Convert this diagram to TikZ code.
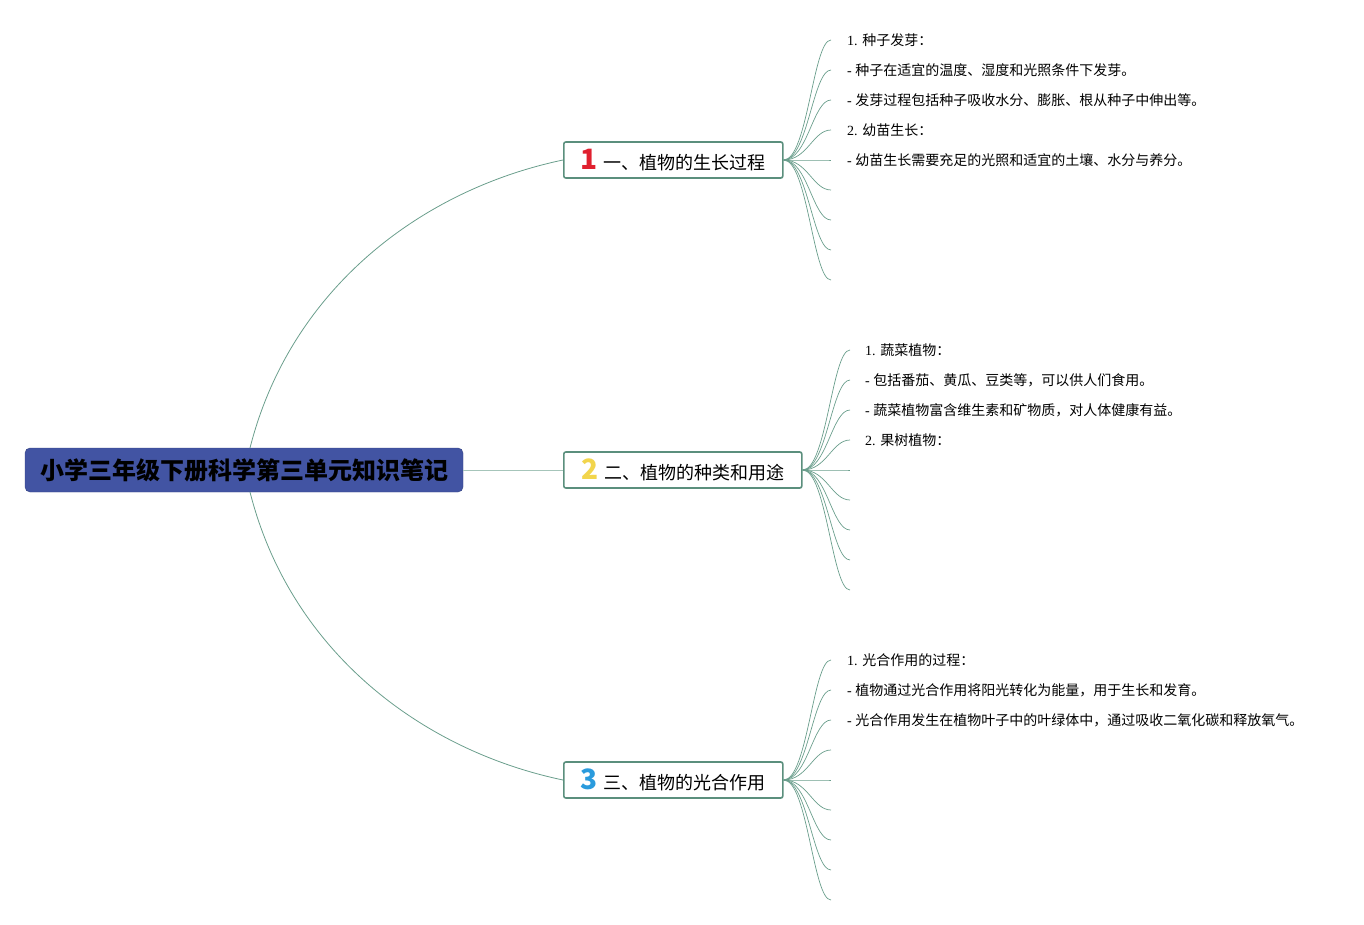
\documentclass[tikz,border=0pt]{standalone}
\usepackage{fontspec}
\setmainfont{Liberation Serif}
\newfontfamily\cjk{Noto Sans CJK SC}
\usetikzlibrary{positioning, calc}
\definecolor{rootblue}{HTML}{4254A3}
\definecolor{topicgreen}{HTML}{5B8F7D}
\definecolor{linkgreen}{HTML}{6A9E8C}
\definecolor{numred}{HTML}{E0202F}
\definecolor{numyellow}{HTML}{F2D54C}
\definecolor{numblue}{HTML}{2A9BDD}
\newcommand{\numicon}[2]{{\fontsize{28}{28}\selectfont\bfseries\color{#1}#2}\hspace{6pt}}

\begin{document}
\begin{tikzpicture}[
  x=1pt, y=-1pt,
  rootbox/.style={rectangle, rounded corners=5pt, fill=rootblue, draw=rootblue!80!black, text=black, minimum width=438pt, minimum height=44pt, font=\cjk\fontsize{24}{26}\selectfont\bfseries},
  topic/.style={rectangle, rounded corners=2pt, draw=topicgreen, line width=1.6pt, fill=white, text=black, minimum height=36pt, inner xsep=0pt, anchor=west, font=\cjk\fontsize{18}{20}\selectfont},
  leaf/.style={anchor=west, inner xsep=16pt, inner ysep=1pt, text=black, font=\fontsize{14}{16}\selectfont},
  link/.style={draw=linkgreen, line width=0.8pt},
  twig/.style={draw=linkgreen, line width=0.7pt}
]
\useasboundingbox (0,0) rectangle (1364,925);

% Zentrales Thema
\node[rootbox] (root) at (244,470) {小学三年级下册科学第三单元知识笔记};

% Hauptzweige
\node[topic, minimum width=219pt] (t1) at (563,160) {\numicon{numred}{1}一、植物的生长过程};
\node[topic, minimum width=238pt] (t2) at (563,470) {\numicon{numyellow}{2}二、植物的种类和用途};
\node[topic, minimum width=219pt] (t3) at (563,780) {\numicon{numblue}{3}三、植物的光合作用};

% Verbindungen zum Zentrum
\coordinate (rtop) at (250,448);
\coordinate (rbot) at (250,492);
\draw[link] (rtop) .. controls (290,290) and (420,190) .. (t1.west);
\draw[link, draw=linkgreen!60] (root.east) -- (t2.west);
\draw[link] (rbot) .. controls (290,650) and (420,750) .. (t3.west);

% Endpunkte der Unterzweige
\foreach \i in {0,...,8} {
  \coordinate (a\i) at (831,40+30*\i);
  \coordinate (b\i) at (850,350+30*\i);
  \coordinate (c\i) at (831,660+30*\i);
}
\foreach \i in {0,...,8} {
  \draw[twig] (t1.east) .. controls ($(t1.east)+(24,0)$) and ($(a\i)+(-18,0)$) .. (a\i);
  \draw[twig] (t2.east) .. controls ($(t2.east)+(24,0)$) and ($(b\i)+(-18,0)$) .. (b\i);
  \draw[twig] (t3.east) .. controls ($(t3.east)+(24,0)$) and ($(c\i)+(-18,0)$) .. (c\i);
}

% Notizen
\node[leaf] (a0t) at (a0) {1. \cjk 种子发芽：};
\node[leaf] (a1t) at (a1) {- \cjk 种子在适宜的温度、湿度和光照条件下发芽。};
\node[leaf] (a2t) at (a2) {- \cjk 发芽过程包括种子吸收水分、膨胀、根从种子中伸出等。};
\node[leaf] (a3t) at (a3) {2. \cjk 幼苗生长：};
\node[leaf] (a4t) at (a4) {- \cjk 幼苗生长需要充足的光照和适宜的土壤、水分与养分。};

\node[leaf, inner xsep=15pt] (b0t) at (b0) {1. \cjk 蔬菜植物：};
\node[leaf, inner xsep=15pt] (b1t) at (b1) {- \cjk 包括番茄、黄瓜、豆类等，可以供人们食用。};
\node[leaf, inner xsep=15pt] (b2t) at (b2) {- \cjk 蔬菜植物富含维生素和矿物质，对人体健康有益。};
\node[leaf, inner xsep=15pt] (b3t) at (b3) {2. \cjk 果树植物：};

\node[leaf] (c0t) at (c0) {1. \cjk 光合作用的过程：};
\node[leaf] (c1t) at (c1) {- \cjk 植物通过光合作用将阳光转化为能量，用于生长和发育。};
\node[leaf] (c2t) at (c2) {- \cjk 光合作用发生在植物叶子中的叶绿体中，通过吸收二氧化碳和释放氧气。};
\end{tikzpicture}
\end{document}
